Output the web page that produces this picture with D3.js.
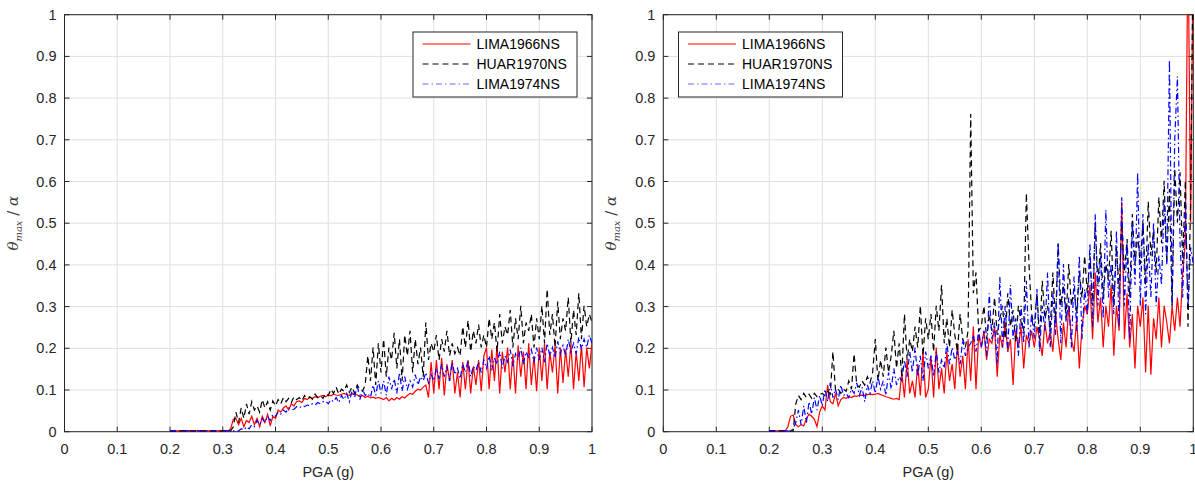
<!DOCTYPE html>
<html>
<head>
<meta charset="utf-8">
<title>theta max / alpha vs PGA</title>
<script src="https://d3js.org/d3.v7.min.js"></script>
<style>
  body { margin: 0; background: #fff; }
  svg { display: block; }
  .tick-label { font: 14.5px "Liberation Sans", Arial, Helvetica, sans-serif; fill: #262626; }
  .legend-text { font: 14px "Liberation Sans", Arial, Helvetica, sans-serif; fill: #000; }
</style>
</head>
<body>
<svg id="chart" width="1195" height="484"></svg>
<script>
// ---- data, PGA grid 0.2 .. 1.0 step 0.005 ----
var pga = d3.range(161).map(function(i) { return +(0.2 + i * 0.005).toFixed(3); });

var seriesNames = ["LIMA1966NS", "HUAR1970NS", "LIMA1974NS"];
var xTickValues = [0, 0.1, 0.2, 0.3, 0.4, 0.5, 0.6, 0.7, 0.8, 0.9, 1];
var yTickValues = [0, 0.1, 0.2, 0.3, 0.4, 0.5, 0.6, 0.7, 0.8, 0.9, 1];
var tickLabels = ["0", "0.1", "0.2", "0.3", "0.4", "0.5", "0.6", "0.7", "0.8", "0.9", "1"];

// left panel
var leftLima66 = [
  0,0,0,0,0,0,0,0,0,0,0,0,0,0,0,0,0,0,0,0,
  0,0,0,0.005,0.028,0.03,0.015,0.03,0.01,0.025,0.02,0.035,0.015,0.03,0.01,0.035,0.02,0.04,0.012,0.035,
  0.03,0.05,0.045,0.055,0.06,0.05,0.065,0.06,0.07,0.072,0.068,0.078,0.075,0.08,0.078,0.082,0.08,0.083,0.085,0.082,
  0.086,0.084,0.088,0.086,0.085,0.088,0.09,0.087,0.085,0.09,0.088,0.086,0.082,0.085,0.08,0.083,0.079,0.081,0.078,0.08,
  0.078,0.075,0.08,0.072,0.078,0.074,0.08,0.076,0.082,0.079,0.085,0.09,0.088,0.095,0.1,0.098,0.105,0.11,0.08,0.165,
  0.09,0.17,0.1,0.175,0.085,0.16,0.12,0.17,0.09,0.14,0.08,0.165,0.1,0.17,0.09,0.155,0.11,0.17,0.095,0.18,
  0.2,0.1,0.195,0.12,0.205,0.09,0.19,0.14,0.2,0.1,0.185,0.09,0.205,0.13,0.19,0.1,0.21,0.11,0.18,0.095,
  0.2,0.12,0.21,0.1,0.19,0.14,0.205,0.09,0.2,0.115,0.195,0.13,0.21,0.1,0.19,0.12,0.205,0.105,0.2,0.15,0.21
];
var leftHuar70 = [
  0,0,0,0,0,0,0,0,0,0,0,0,0,0,0,0,0,0,0,0,
  0,0,0,0,0.01,0.045,0.02,0.055,0.03,0.065,0.04,0.07,0.05,0.06,0.045,0.075,0.055,0.07,0.05,0.072,
  0.06,0.075,0.065,0.08,0.07,0.078,0.068,0.082,0.075,0.08,0.072,0.085,0.078,0.082,0.076,0.088,0.08,0.085,0.078,0.09,
  0.085,0.1,0.09,0.105,0.088,0.1,0.095,0.11,0.092,0.105,0.09,0.11,0.1,0.095,0.11,0.18,0.12,0.2,0.11,0.21,
  0.14,0.22,0.13,0.2,0.17,0.235,0.15,0.22,0.12,0.23,0.18,0.24,0.14,0.22,0.16,0.2,0.13,0.26,0.17,0.21,
  0.19,0.23,0.17,0.22,0.19,0.24,0.18,0.21,0.185,0.2,0.18,0.25,0.2,0.265,0.19,0.24,0.21,0.255,0.2,0.23,
  0.2,0.27,0.22,0.26,0.19,0.28,0.21,0.25,0.23,0.29,0.2,0.27,0.22,0.3,0.21,0.26,0.24,0.28,0.2,0.27,
  0.22,0.3,0.21,0.34,0.23,0.28,0.2,0.31,0.22,0.27,0.24,0.32,0.21,0.29,0.23,0.33,0.22,0.3,0.25,0.28,0.26
];
var leftLima74 = [
  0,0,0,0,0,0,0,0,0,0,0,0,0,0,0,0,0,0,0,0,
  0,0,0,0,0,0,0,0.005,0.002,0.01,0.005,0.015,0.01,0.025,0.015,0.03,0.02,0.035,0.025,0.04,
  0.035,0.045,0.04,0.05,0.045,0.055,0.05,0.052,0.058,0.055,0.06,0.058,0.062,0.06,0.065,0.062,0.068,0.065,0.07,0.072,
  0.065,0.075,0.07,0.08,0.068,0.085,0.075,0.09,0.07,0.095,0.08,0.11,0.075,0.1,0.085,0.09,0.08,0.11,0.085,0.12,
  0.09,0.12,0.085,0.13,0.1,0.125,0.09,0.14,0.095,0.13,0.1,0.12,0.105,0.135,0.11,0.13,0.12,0.14,0.115,0.135,
  0.12,0.15,0.125,0.16,0.13,0.155,0.12,0.165,0.135,0.15,0.125,0.16,0.14,0.17,0.13,0.155,0.145,0.165,0.14,0.17,
  0.15,0.18,0.145,0.175,0.16,0.19,0.15,0.18,0.165,0.195,0.155,0.185,0.17,0.2,0.16,0.19,0.175,0.195,0.165,0.2,
  0.17,0.2,0.165,0.21,0.18,0.2,0.175,0.215,0.185,0.205,0.18,0.22,0.19,0.21,0.185,0.225,0.195,0.22,0.2,0.23,0.21
];

// right panel
var rightLima66 = [
  0,0,0,0,0,0,0,0.01,0.035,0.038,0.015,0.01,0.015,0.012,0.03,0.04,0.035,0.028,0.01,0.045,
  0.06,0.05,0.11,0.07,0.065,0.09,0.06,0.075,0.08,0.078,0.082,0.08,0.084,0.083,0.085,0.086,0.085,0.087,0.088,0.087,
  0.088,0.09,0.087,0.085,0.082,0.08,0.078,0.076,0.078,0.075,0.14,0.08,0.17,0.09,0.12,0.08,0.16,0.085,0.19,0.08,
  0.1,0.18,0.08,0.2,0.1,0.15,0.09,0.19,0.12,0.16,0.1,0.21,0.13,0.18,0.1,0.22,0.12,0.25,0.1,0.23,
  0.2,0.24,0.17,0.22,0.21,0.25,0.13,0.23,0.2,0.26,0.19,0.22,0.11,0.24,0.2,0.25,0.15,0.23,0.21,0.24,
  0.2,0.25,0.22,0.18,0.26,0.21,0.24,0.19,0.28,0.22,0.17,0.26,0.2,0.3,0.22,0.19,0.27,0.15,0.25,0.3,
  0.28,0.35,0.22,0.38,0.26,0.32,0.2,0.3,0.25,0.35,0.18,0.3,0.24,0.55,0.22,0.33,0.2,0.28,0.15,0.3,
  0.25,0.32,0.14,0.3,0.135,0.27,0.22,0.32,0.2,0.3,0.26,0.21,0.3,0.24,0.32,0.25,0.38,0.45,1.2,0.5,1.2
];
var rightHuar70 = [
  0,0,0,0,0,0,0,0,0,0,0.065,0.085,0.075,0.09,0.08,0.088,0.078,0.09,0.082,0.087,
  0.09,0.085,0.095,0.088,0.19,0.095,0.1,0.09,0.1,0.095,0.12,0.1,0.185,0.11,0.105,0.12,0.11,0.13,0.115,0.14,
  0.22,0.12,0.17,0.13,0.2,0.14,0.18,0.24,0.15,0.21,0.13,0.28,0.17,0.22,0.19,0.25,0.2,0.3,0.18,0.27,
  0.22,0.28,0.19,0.3,0.24,0.35,0.21,0.27,0.2,0.29,0.23,0.19,0.28,0.22,0.2,0.24,0.76,0.33,0.38,0.24,
  0.25,0.3,0.22,0.28,0.24,0.32,0.23,0.27,0.3,0.22,0.33,0.25,0.29,0.21,0.3,0.26,0.24,0.57,0.4,0.28,
  0.25,0.33,0.22,0.36,0.27,0.3,0.24,0.38,0.26,0.45,0.3,0.35,0.27,0.4,0.3,0.34,0.28,0.38,0.32,0.42,
  0.33,0.42,0.3,0.5,0.35,0.45,0.32,0.4,0.36,0.48,0.3,0.44,0.34,0.5,0.38,0.46,0.32,0.52,0.4,0.47,
  0.4,0.5,0.35,0.55,0.42,0.48,0.38,0.56,0.45,0.6,0.4,0.58,0.3,0.63,0.5,0.62,0.4,0.6,0.25,0.55,1.2
];
var rightLima74 = [
  0,0,0,0,0,0,0,0,0,0.005,0.02,0.05,0.015,0.06,0.02,0.07,0.04,0.08,0.05,0.085,
  0.06,0.1,0.07,0.115,0.08,0.1,0.075,0.11,0.085,0.09,0.08,0.1,0.09,0.115,0.085,0.105,0.07,0.11,0.09,0.12,
  0.09,0.13,0.1,0.12,0.085,0.14,0.1,0.15,0.11,0.13,0.12,0.17,0.13,0.19,0.14,0.2,0.13,0.18,0.12,0.19,
  0.15,0.18,0.13,0.19,0.14,0.17,0.15,0.21,0.16,0.2,0.17,0.19,0.16,0.22,0.18,0.2,0.21,0.23,0.19,0.24,
  0.2,0.24,0.18,0.33,0.22,0.26,0.16,0.37,0.2,0.3,0.19,0.35,0.22,0.27,0.18,0.3,0.21,0.36,0.2,0.28,
  0.22,0.34,0.19,0.3,0.24,0.38,0.2,0.33,0.23,0.45,0.21,0.4,0.26,0.32,0.2,0.37,0.24,0.42,0.22,0.34,
  0.28,0.45,0.25,0.52,0.3,0.42,0.27,0.53,0.32,0.4,0.28,0.48,0.25,0.56,0.3,0.45,0.22,0.5,0.35,0.62,
  0.3,0.52,0.28,0.45,0.32,0.5,0.3,0.42,0.35,0.55,0.4,0.89,0.3,0.7,0.85,0.45,0.32,0.55,0.3,0.44,0.4
];

var seriesStyle = [
  { color: "#ff0000", dash: null },
  { color: "#000000", dash: "6,4" },
  { color: "#0000ff", dash: "6,3,1.5,3" }
];

var svg = d3.select("#chart");

function drawPanel(id, box, data, legendPos) {
  var x = d3.scaleLinear().domain([0, 1]).range([box.left, box.right]);
  var y = d3.scaleLinear().domain([0, 1]).range([box.bottom, box.top]);
  var g = svg.append("g");

  // grid
  g.selectAll(".gx").data(xTickValues).enter().append("line")
    .attr("x1", function(d) { return x(d); }).attr("x2", function(d) { return x(d); })
    .attr("y1", box.top).attr("y2", box.bottom)
    .attr("stroke", "#dfdfdf").attr("stroke-width", 1);
  g.selectAll(".gy").data(yTickValues).enter().append("line")
    .attr("y1", function(d) { return y(d); }).attr("y2", function(d) { return y(d); })
    .attr("x1", box.left).attr("x2", box.right)
    .attr("stroke", "#dfdfdf").attr("stroke-width", 1);

  // axes (box on, ticks inside on all sides)
  var ax = g.append("g").attr("stroke", "#262626").attr("stroke-width", 1);
  ax.append("rect").attr("x", box.left).attr("y", box.top)
    .attr("width", box.right - box.left).attr("height", box.bottom - box.top)
    .attr("fill", "none");
  xTickValues.forEach(function(d) {
    ax.append("line").attr("x1", x(d)).attr("x2", x(d)).attr("y1", box.bottom).attr("y2", box.bottom - 5);
    ax.append("line").attr("x1", x(d)).attr("x2", x(d)).attr("y1", box.top).attr("y2", box.top + 5);
  });
  yTickValues.forEach(function(d) {
    ax.append("line").attr("y1", y(d)).attr("y2", y(d)).attr("x1", box.left).attr("x2", box.left + 5);
    ax.append("line").attr("y1", y(d)).attr("y2", y(d)).attr("x1", box.right).attr("x2", box.right - 5);
  });

  // lines, clipped to the axes (drawn over the axis line like the original)
  svg.append("clipPath").attr("id", "clip" + id).append("rect")
    .attr("x", box.left).attr("y", box.top)
    .attr("width", box.right - box.left).attr("height", box.bottom - box.top + 1);
  var line = d3.line().x(function(d) { return x(d[0]); }).y(function(d) { return y(d[1]) - 0.8; });
  var lines = g.append("g").attr("clip-path", "url(#clip" + id + ")");
  data.forEach(function(vals, k) {
    lines.append("path")
      .datum(pga.map(function(p, i) { return [p, vals[i]]; }))
      .attr("d", line)
      .attr("fill", "none")
      .attr("stroke", seriesStyle[k].color)
      .attr("stroke-width", 1.2)
      .attr("stroke-dasharray", seriesStyle[k].dash);
  });

  g.selectAll(".xl").data(xTickValues).enter().append("text")
    .attr("class", "tick-label")
    .attr("x", function(d) { return x(d); }).attr("y", box.bottom + 22)
    .attr("text-anchor", "middle")
    .text(function(d, i) { return tickLabels[i]; });
  g.selectAll(".yl").data(yTickValues).enter().append("text")
    .attr("class", "tick-label")
    .attr("x", box.left - 8).attr("y", function(d) { return y(d) + 5; })
    .attr("text-anchor", "end")
    .text(function(d, i) { return tickLabels[i]; });

  g.append("text").attr("class", "tick-label")
    .attr("x", (box.left + box.right) / 2).attr("y", box.bottom + 45)
    .attr("text-anchor", "middle").text("PGA (g)");

  var yl = g.append("text")
    .attr("transform", "translate(" + (box.left - 47) + "," + ((box.top + box.bottom) / 2) + ") rotate(-90)")
    .attr("text-anchor", "middle")
    .attr("fill", "#404040")
    .style("font-family", "'DejaVu Serif', 'Liberation Serif', serif")
    .style("font-style", "italic")
    .style("font-size", "15px");
  yl.append("tspan").text("θ");
  yl.append("tspan").attr("dy", 4).style("font-size", "10px").text("max");
  yl.append("tspan").attr("dy", -4).style("font-style", "normal").text(" / ");
  yl.append("tspan").text("α");

  // legend
  var lg = g.append("g").attr("transform", "translate(" + legendPos[0] + "," + legendPos[1] + ")");
  lg.append("rect").attr("x", 0.5).attr("y", 0.5).attr("width", 164).attr("height", 65)
    .attr("fill", "#fff").attr("stroke", "#262626").attr("stroke-width", 1);
  seriesNames.forEach(function(name, k) {
    var ry = 12.5 + 20 * k;
    lg.append("line").attr("x1", 10).attr("x2", 58).attr("y1", ry).attr("y2", ry)
      .attr("stroke", seriesStyle[k].color).attr("stroke-width", 1)
      .attr("stroke-opacity", k === 2 ? 0.6 : 1)
      .attr("stroke-dasharray", seriesStyle[k].dash);
    lg.append("text").attr("class", "legend-text").attr("x", 64).attr("y", ry + 5).text(name);
  });
}

drawPanel("L", { left: 64.5, right: 592, top: 14.7, bottom: 431.7 },
  [leftLima66, leftHuar70, leftLima74], [412.5, 31.5]);
drawPanel("R", { left: 663.3, right: 1193.3, top: 14.7, bottom: 431.7 },
  [rightLima66, rightHuar70, rightLima74], [678, 31.5]);
</script>
</body>
</html>
